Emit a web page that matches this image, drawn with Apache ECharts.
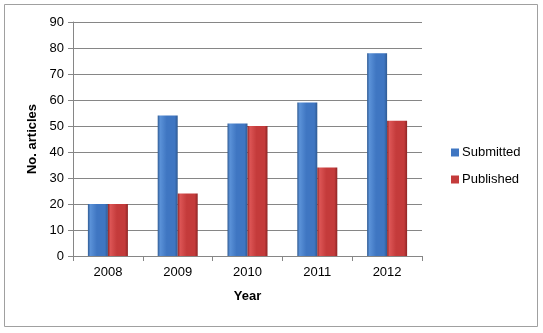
<!DOCTYPE html>
<html><head><meta charset="utf-8">
<script src="https://cdn.jsdelivr.net/npm/echarts@6/dist/echarts.min.js"></script>
<style>html,body{margin:0;padding:0;background:#fff}#c{width:543px;height:333px}</style>
</head><body><div id="c"></div>
<script>
var years = ['2008','2009','2010','2011','2012'];
var submitted = [20, 54, 51, 59, 78];
var published = [20, 24, 50, 34, 52];
var seriesNames = ['Submitted','Published'];

function grad(edge, mid, light){
  return new echarts.graphic.LinearGradient(0,0,1,0,[
    {offset:0,color:edge},{offset:0.12,color:light},{offset:0.45,color:mid},{offset:0.85,color:mid},{offset:1,color:edge}]);
}
var font = 'Liberation Sans, Arial, sans-serif';
var chart = echarts.init(document.getElementById('c'));
chart.setOption({
  animation:false,
  backgroundColor:'#fff',
  graphic:[{type:'rect',shape:{x:4.5,y:4.5,width:533,height:322},style:{fill:null,stroke:'#a0a0a0',lineWidth:1}}],
  grid:{left:73,right:121,top:22,bottom:77},
  legend:{orient:'vertical',left:446,top:141,itemWidth:8,itemHeight:8,itemGap:14,icon:'rect',
    textStyle:{fontFamily:font,fontSize:13,color:'#000',padding:[0,0,0,-2]},data:seriesNames},
  xAxis:{type:'category',data:years,name:'Year',nameLocation:'middle',nameGap:34,
    nameTextStyle:{fontFamily:font,fontSize:13,fontWeight:'bold',color:'#000'},
    axisLine:{lineStyle:{color:'#868686'}},axisTick:{show:true,length:5,lineStyle:{color:'#868686'}},
    axisLabel:{fontFamily:font,fontSize:13,color:'#000',margin:10}},
  yAxis:{type:'value',min:0,max:90,interval:10,name:'No. articles',nameLocation:'middle',nameGap:34,
    nameTextStyle:{fontFamily:font,fontSize:13,fontWeight:'bold',color:'#000'},
    axisLine:{show:true,lineStyle:{color:'#868686'}},axisTick:{show:true,length:5,lineStyle:{color:'#868686'}},
    axisLabel:{fontFamily:font,fontSize:13,color:'#000',margin:9},
    splitLine:{lineStyle:{color:'#868686'}}},
  series:[
    {name:seriesNames[0],type:'bar',data:submitted,barWidth:20,barGap:'0%',
     itemStyle:{color:grad('#2f5a92','#3f76c2','#5b92d8'),shadowColor:'rgba(0,0,0,0.3)',shadowBlur:3,shadowOffsetX:1,shadowOffsetY:1}},
    {name:seriesNames[1],type:'bar',data:published,barWidth:20,barGap:'0%',
     itemStyle:{color:grad('#8e2525','#c43b3b','#dc5555'),shadowColor:'rgba(0,0,0,0.3)',shadowBlur:3,shadowOffsetX:1,shadowOffsetY:1}}
  ]
});
chart.setOption({legend:{data:[
  {name:seriesNames[0],itemStyle:{color:'#3f76c2'}},
  {name:seriesNames[1],itemStyle:{color:'#c43b3b'}}]}});
</script></body></html>
